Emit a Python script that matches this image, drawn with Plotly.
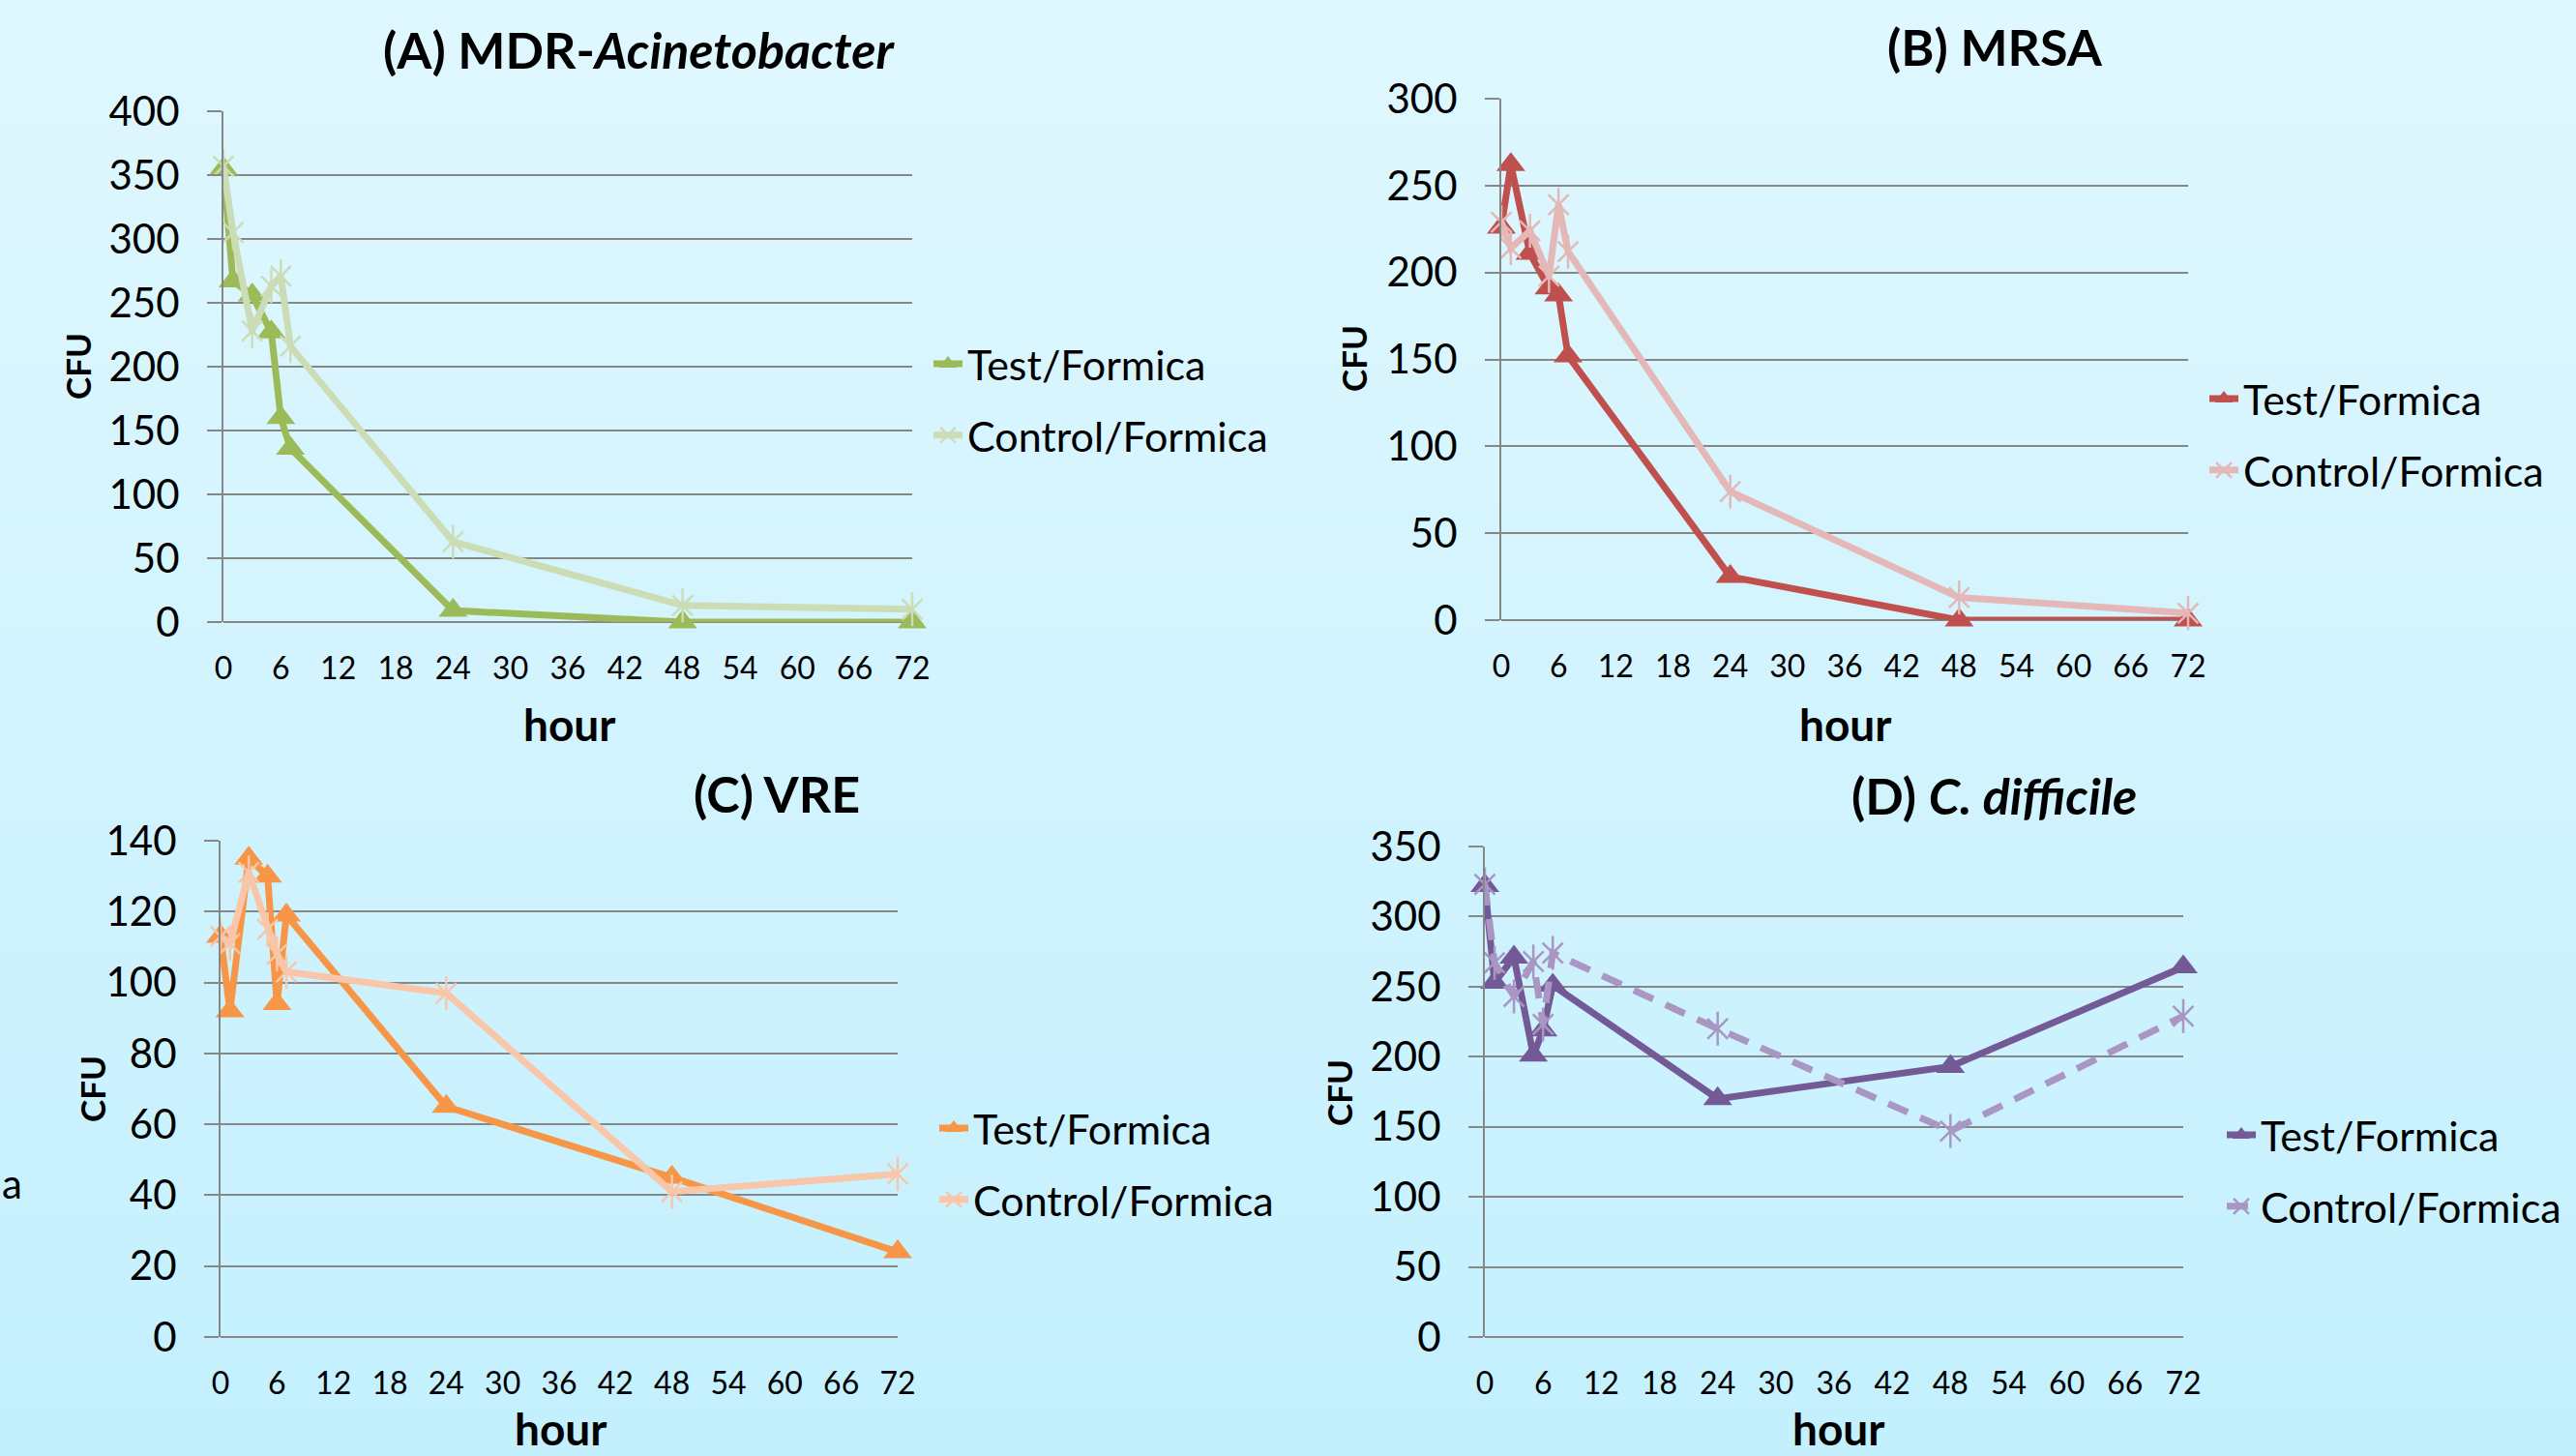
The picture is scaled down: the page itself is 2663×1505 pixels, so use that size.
import plotly.graph_objects as go

W, H = 2663, 1505
FONT = "Lato"

# ---------------- data ----------------
hours = [0, 1, 3, 5, 6, 7, 24, 48, 72]
x_ticks = [0, 6, 12, 18, 24, 30, 36, 42, 48, 54, 60, 66, 72]

a_test = [355, 267, 256, 227, 160, 136, 9, 0, 0]
a_ctrl = [357, 305, 228, 263, 271, 216, 63, 13, 10]
b_test = [226, 262, 211, 191, 187, 152, 25, 0, 0]
b_ctrl = [229, 214, 224, 198, 239, 212, 74, 13, 4]
c_test = [113, 92, 135, 130, 94, 119, 65, 45, 24]
c_ctrl = [113, 111, 131, 115, 108, 103, 97, 41, 46]
d_test = [322, 253, 271, 201, 219, 251, 170, 193, 264]
d_ctrl = [323, 267, 243, 268, 223, 274, 220, 147, 229]

series_names = ["Test/Formica", "Control/Formica"]
titles = ["<b>(A) MDR-<i>Acinetobacter</i></b>", "<b>(B) MRSA</b>",
          "<b>(C) VRE</b>", "<b>(D) <i>C. difficile</i></b>"]
y_title = "CFU"
x_title = "hour"

# ---------------- layout/style ----------------
panels = [
    dict(test=a_test, ctrl=a_ctrl, tc="#9BBB59", cc="#CCDCB5", dash="solid",
         ymax=400, dtick=50, px=(231, 943), py=(115, 643),
         title_xy=(661, 51), cfu_xy=(80, 379), hour_xy=(588, 749, "middle"), leg_xy=(960, 413)),
    dict(test=b_test, ctrl=b_ctrl, tc="#C0504D", cc="#E4B8B7", dash="solid",
         ymax=300, dtick=50, px=(1552, 2262), py=(102, 641),
         title_xy=(2062, 48), cfu_xy=(1399, 371), hour_xy=(1907, 749, "middle"), leg_xy=(2279, 449)),
    dict(test=c_test, ctrl=c_ctrl, tc="#F79646", cc="#F9C6A9", dash="solid",
         ymax=140, dtick=20, px=(228, 928), py=(869, 1382),
         title_xy=(803, 820), cfu_xy=(95, 1126), hour_xy=(579, 1505, "bottom"), leg_xy=(966, 1203)),
    dict(test=d_test, ctrl=d_ctrl, tc="#735A96", cc="#A996C2", dash="22px,14px",
         ymax=350, dtick=50, px=(1535, 2257), py=(875, 1382),
         title_xy=(2061, 822), cfu_xy=(1384, 1130), hour_xy=(1900, 1505, "bottom"), leg_xy=(2297, 1210)),
]

fig = go.Figure()
layout = dict(width=W, height=H, margin=dict(l=0, r=0, t=0, b=0, autoexpand=False),
              paper_bgcolor="#D2F3FE", plot_bgcolor="rgba(0,0,0,0)",
              font=dict(family=FONT, color="black"))
annotations = []
shapes = []

# background vertical gradient
top = (223, 247, 254)
bot = (196, 240, 254)
N = 60
for i in range(N):
    t = i / (N - 1)
    c = tuple(round(top[k] + (bot[k] - top[k]) * t) for k in range(3))
    shapes.append(dict(type="rect", xref="paper", yref="paper", layer="below",
                       x0=0, x1=1, y0=1 - (i + 1) / N - 0.001, y1=1 - i / N,
                       fillcolor="rgb(%d,%d,%d)" % c, line=dict(width=0)))

for i, p in enumerate(panels):
    n = i + 1
    xa = "x" if n == 1 else "x%d" % n
    ya = "y" if n == 1 else "y%d" % n
    leg = "legend" if n == 1 else "legend%d" % n
    fig.add_trace(go.Scatter(
        x=hours, y=p["test"], mode="lines+markers", name=series_names[0],
        line=dict(color=p["tc"], width=7),
        marker=dict(symbol="triangle-up", size=26, color=p["tc"]),
        xaxis=xa, yaxis=ya, legend=leg, legendgroup="t%d" % n, cliponaxis=False))
    fig.add_trace(go.Scatter(
        x=hours, y=p["ctrl"], mode="lines+markers", name=series_names[1],
        line=dict(color=p["cc"], width=7, dash=p["dash"]),
        marker=dict(symbol="x-thin-open", size=21, color=p["cc"],
                    line=dict(color=p["cc"], width=2.5)),
        xaxis=xa, yaxis=ya, legend=leg, legendgroup="c%d" % n, cliponaxis=False))
    fig.add_trace(go.Scatter(
        x=hours, y=p["ctrl"], mode="markers", showlegend=False,
        marker=dict(symbol="line-ns-open", size=25, color=p["cc"],
                    line=dict(color=p["cc"], width=2.5)),
        xaxis=xa, yaxis=ya, legendgroup="c%d" % n, cliponaxis=False, hoverinfo="skip"))

    layout["xaxis" if n == 1 else "xaxis%d" % n] = dict(
        domain=[p["px"][0] / W, p["px"][1] / W], range=[0, 72],
        tickvals=x_ticks, showgrid=False, zeroline=False, showline=False, ticks="",
        tickfont=dict(family=FONT, size=32, color="black"), ticklabelstandoff=26,
        anchor=ya, automargin=False)
    layout["yaxis" if n == 1 else "yaxis%d" % n] = dict(
        domain=[1 - p["py"][1] / H, 1 - p["py"][0] / H], range=[0, p["ymax"]],
        tick0=0, dtick=p["dtick"], showgrid=True, gridcolor="#878787", gridwidth=2,
        zeroline=True, zerolinecolor="#878787", zerolinewidth=2,
        showline=True, linecolor="#878787", linewidth=2,
        ticks="outside", ticklen=15, tickcolor="#878787", tickwidth=2,
        tickfont=dict(family=FONT, size=42, color="black"), ticklabelstandoff=20,
        anchor=xa, automargin=False)
    layout[leg] = dict(x=p["leg_xy"][0] / W, y=1 - p["leg_xy"][1] / H,
                       xref="container", yref="container",
                       xanchor="left", yanchor="middle", bgcolor="rgba(0,0,0,0)",
                       font=dict(family=FONT, size=43, color="black"),
                       traceorder="grouped", tracegroupgap=15)

    annotations.append(dict(text=titles[i], x=p["title_xy"][0] / W, y=1 - p["title_xy"][1] / H,
                            xref="paper", yref="paper", showarrow=False,
                            xanchor="center", yanchor="middle",
                            font=dict(family=FONT, size=52, color="black")))
    annotations.append(dict(text="<b>%s</b>" % y_title, x=p["cfu_xy"][0] / W, y=1 - p["cfu_xy"][1] / H,
                            xref="paper", yref="paper", showarrow=False, textangle=-90,
                            xanchor="center", yanchor="middle",
                            font=dict(family=FONT, size=35, color="black")))
    annotations.append(dict(text="<b>%s</b>" % x_title, x=p["hour_xy"][0] / W, y=1 - p["hour_xy"][1] / H,
                            xref="paper", yref="paper", showarrow=False,
                            xanchor="center", yanchor=p["hour_xy"][2], borderpad=0,
                            font=dict(family=FONT, size=46, color="black")))

annotations.append(dict(text="a", x=0, y=1 - 1223 / H, xref="paper", yref="paper",
                        showarrow=False, xanchor="left", yanchor="middle",
                        font=dict(family=FONT, size=42, color="black")))

layout["annotations"] = annotations
layout["shapes"] = shapes
fig.update_layout(**layout)
fig.write_html("out.html", config={"displayModeBar": False},
               post_script="document.body.style.margin='0';document.body.style.overflow='hidden';")
